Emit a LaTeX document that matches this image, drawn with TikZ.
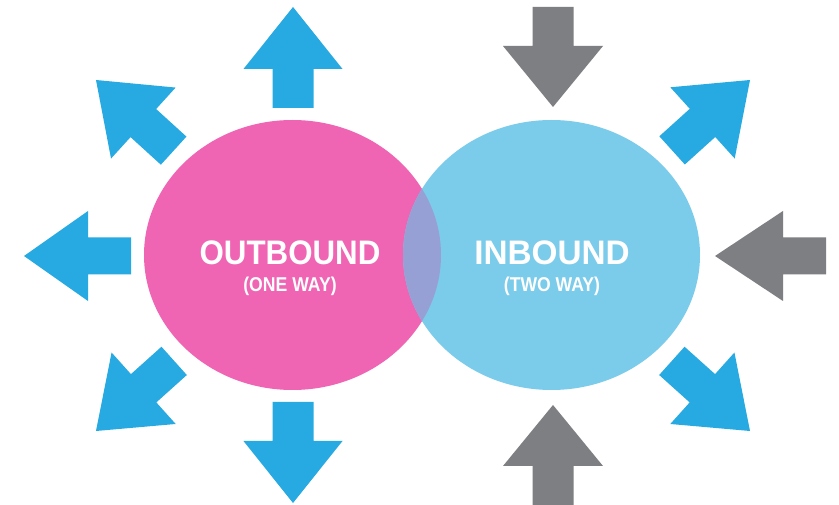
\documentclass[tikz,border=0pt]{standalone}
\usepackage{fontspec}
\setmainfont{Liberation Sans}
\definecolor{pinkc}{HTML}{F064B4}
\definecolor{bluec}{HTML}{7BCBEB}
\definecolor{lensc}{HTML}{97A0D4}
\definecolor{arrowblue}{HTML}{27A9E1}
\definecolor{arrowgray}{HTML}{7E7F83}
\tikzset{
  pics/bigarrow/.style n args={4}{code={
    \fill (0,0) -- (-#2,#3) -- (-#2,#4) -- (-#1,#4) -- (-#1,-#4) -- (-#2,-#4) -- (-#2,-#3) -- cycle;
  }},
  bluearrow/.style={fill=arrowblue},
  grayarrow/.style={fill=arrowgray},
  bigtext/.style={text=white, font=\bfseries\fontsize{34}{34}\selectfont, anchor=base, inner sep=0pt},
  smalltext/.style={text=white, font=\bfseries\fontsize{20}{20}\selectfont, anchor=base, inner sep=0pt},
}
\begin{document}
\begin{tikzpicture}[x=1pt,y=1pt]
\useasboundingbox (0,0) rectangle (839,504);
\fill[white] (0,0) rectangle (839,504);
% circles
\fill[pinkc] (292.5,249) ellipse [x radius=148.5, y radius=135];
\fill[bluec] (551.5,249) ellipse [x radius=148.5, y radius=135];
\begin{scope}
  \clip (292.5,249) ellipse [x radius=148.5, y radius=135];
  \fill[lensc] (551.5,249) ellipse [x radius=148.5, y radius=135];
\end{scope}
% outbound arrows (blue)
\pic[bluearrow, rotate=90] at (293,497) {bigarrow={101}{62}{49.5}{20.5}};
\pic[bluearrow, rotate=-90] at (293,1) {bigarrow={101}{62}{49.5}{20.5}};
\pic[bluearrow, rotate=180] at (24,248) {bigarrow={107}{64}{45}{18.5}};
\pic[bluearrow, rotate=137.7] at (96,424) {bigarrow={105}{64}{48}{19}};
\pic[bluearrow, rotate=-138.1] at (96,73) {bigarrow={105}{64}{48}{19}};
\pic[bluearrow, rotate=42.1] at (750,424) {bigarrow={105}{64}{48}{19}};
\pic[bluearrow, rotate=-41.9] at (750,73) {bigarrow={105}{64}{48}{19}};
% inbound arrows (gray)
\pic[grayarrow, rotate=-90] at (553,397) {bigarrow={100}{61}{50}{20.5}};
\pic[grayarrow, rotate=90] at (553,99) {bigarrow={101}{61}{50}{20.5}};
\pic[grayarrow, rotate=180] at (715,248) {bigarrow={111}{68}{45}{18.5}};
% texts
\node[bigtext] (out) at (290,239) {\scalebox{0.92}[1]{OUTBOUND}};
\node[smalltext] (oneway) at (290,212) {\scalebox{0.88}[1]{(ONE WAY)}};
\node[bigtext] (in) at (552,239) {\scalebox{0.98}[1]{INBOUND}};
\node[smalltext] (twoway) at (552,212) {\scalebox{0.88}[1]{(TWO WAY)}};
\end{tikzpicture}
\end{document}
